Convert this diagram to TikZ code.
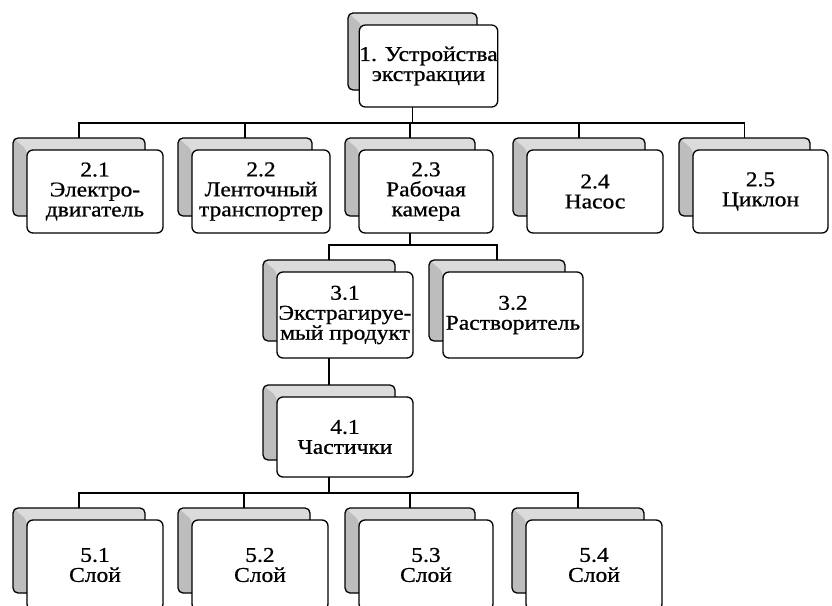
\documentclass[tikz,border=0pt]{standalone}
\usepackage{fontspec}
\setmainfont[FakeStretch=1.12,FakeBold=0.8]{Liberation Serif}
\begin{document}
\begin{tikzpicture}[x=1pt,y=-1pt,
  frontbox/.style={draw=black, line width=1.3pt, fill=white, rounded corners=6pt,
    align=center, inner sep=0pt, font=\fontsize{21}{20}\selectfont},
  backbox/.style={draw=black, line width=1.3pt, fill=gray!28, rounded corners=5pt,
    inner sep=0pt,
    path picture={\fill[gray!52] (path picture bounding box.north west) -- ++(14pt,-12pt)
      -- ++(0pt,-200pt) -- ++(-30pt,0pt) -- ++(0pt,220pt) -- cycle;}},
  conn/.style={draw=black, line width=1.6pt, line cap=rect}]
\clip (0,0) rectangle (832,605);
\fill[white] (0,0) rectangle (832,605);
% name, cx, cy, width, height, text
\newcommand\twobox[6]{%
  \node[backbox, minimum width=\the\numexpr#4-4\relax pt,
        minimum height=\the\numexpr#5-5\relax pt] (k#1) at (#2-16,#3-14.5) {};
  \node[frontbox, minimum width=#4pt, minimum height=#5pt] (n#1) at (#2,#3) {#6};
}
\twobox{1}{428.5}{66}{133}{82}{1. Устройства\\экстракции}
\twobox{21}{95}{191.5}{136}{83}{2.1\\Электро-\\двигатель}
\twobox{22}{261}{191.5}{138}{83}{2.2\\Ленточный\\транспортер}
\twobox{23}{426}{191.5}{134}{83}{2.3\\Рабочая\\камера}
\twobox{24}{595}{191.5}{136}{83}{2.4\\Насос}
\twobox{25}{760.5}{191.5}{135}{83}{2.5\\Циклон}
\twobox{31}{345}{315}{136}{86}{3.1\\Экстрагируе-\\мый продукт}
\twobox{32}{513}{315}{140}{86}{3.2\\Растворитель}
\twobox{41}{345}{437}{136}{80}{4.1\\Частички}
\twobox{51}{95}{565}{136}{90}{5.1\\Слой}
\twobox{52}{260}{565}{136}{90}{5.2\\Слой}
\twobox{53}{426}{565}{134}{90}{5.3\\Слой}
\twobox{54}{594}{565}{136}{90}{5.4\\Слой}
% buses
\coordinate (bus2) at (0,123);
\coordinate (bus3) at (0,245);
\coordinate (bus5) at (0,493);
\draw[conn] (k1 |- n1.south) -- (k1 |- bus2);
\draw[conn] (k21 |- bus2) -- (k25 |- bus2);
\foreach \i in {21,22,23,24,25} {\draw[conn] (k\i |- bus2) -- (k\i.north);}
\draw[conn] (k23 |- n23.south) -- (k23 |- bus3);
\draw[conn] (k31 |- bus3) -- (k32 |- bus3);
\foreach \i in {31,32} {\draw[conn] (k\i |- bus3) -- (k\i.north);}
\draw[conn] (k31 |- n31.south) -- (k41.north);
\draw[conn] (k41 |- n41.south) -- (k41 |- bus5);
\draw[conn] (k51 |- bus5) -- (k54 |- bus5);
\foreach \i in {51,52,53,54} {\draw[conn] (k\i |- bus5) -- (k\i.north);}
\end{tikzpicture}
\end{document}
